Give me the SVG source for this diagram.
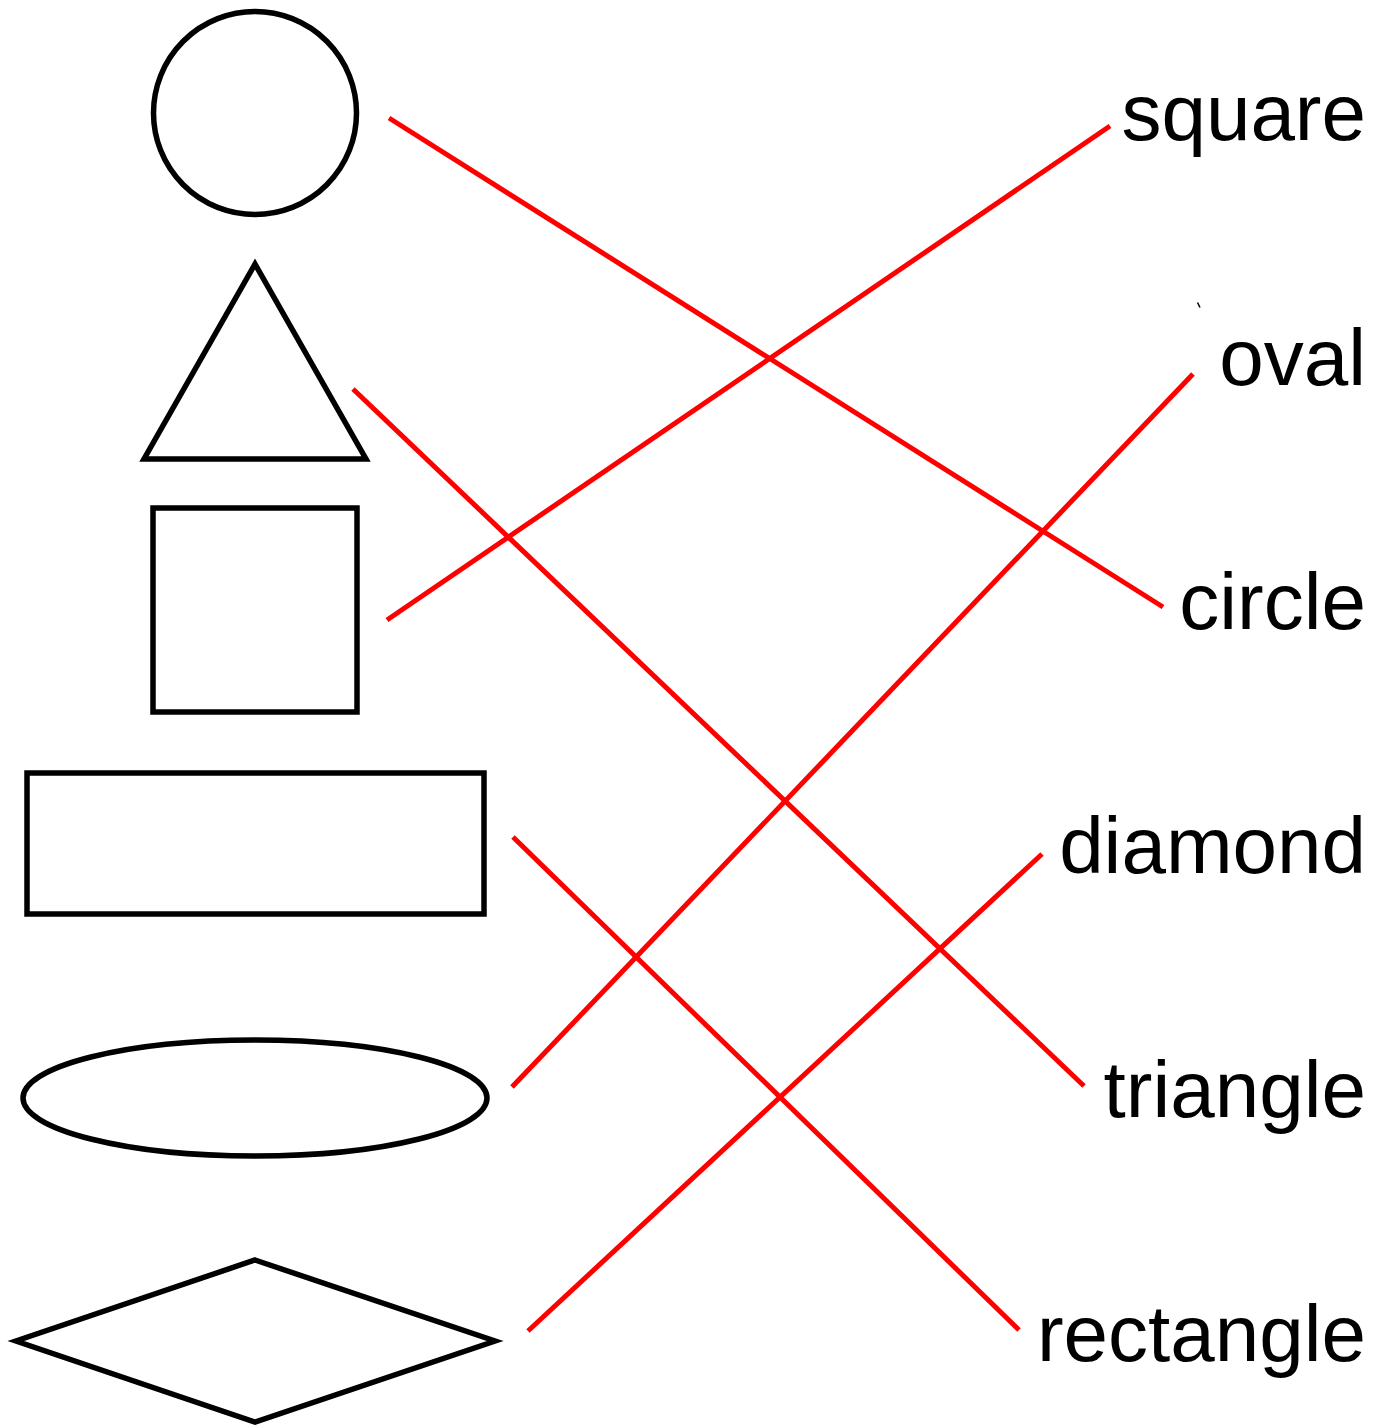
<svg xmlns="http://www.w3.org/2000/svg" width="1381" height="1427" viewBox="0 0 1381 1427">
<style>
.shape{fill:none;stroke:#000;stroke-width:5.5}
.conn line{stroke:#ff0000;stroke-width:5}
.lbl{font-family:"Liberation Sans",Arial,sans-serif;font-size:80px;fill:#000;text-anchor:end}
</style>
<rect width="1381" height="1427" fill="#fff"/>
<g id="shape-circle"><circle class="shape" cx="255" cy="113" r="101.5"/></g>
<g id="shape-triangle"><polygon class="shape" points="255,264 144,459 366,459"/></g>
<g id="shape-square"><rect class="shape" x="153" y="508" width="204" height="204"/></g>
<g id="shape-rectangle"><rect class="shape" x="27" y="773" width="457" height="141"/></g>
<g id="shape-oval"><ellipse class="shape" cx="255" cy="1098" rx="232" ry="58"/></g>
<g id="shape-diamond"><polygon class="shape" points="255,1260 495,1341 255,1422 16,1341"/></g>
<g id="label-square"><text class="lbl" x="1366" y="140">square</text></g>
<g id="label-oval"><text class="lbl" x="1366" y="385">oval</text></g>
<g id="label-circle"><text class="lbl" x="1366" y="629">circle</text></g>
<g id="label-diamond"><text class="lbl" x="1366" y="873">diamond</text></g>
<g id="label-triangle"><text class="lbl" x="1366" y="1117">triangle</text></g>
<g id="label-rectangle"><text class="lbl" x="1366" y="1361">rectangle</text></g>
<g id="connectors" class="conn">
<line x1="389" y1="118" x2="1163" y2="607"/>
<line x1="353" y1="389" x2="1084" y2="1086"/>
<line x1="387" y1="620" x2="1110" y2="126"/>
<line x1="513" y1="837" x2="1019" y2="1330"/>
<line x1="512" y1="1087" x2="1193" y2="374"/>
<line x1="528" y1="1331" x2="1042" y2="854"/>
</g>
<line x1="1197.5" y1="302.5" x2="1200" y2="307.5" stroke="#000" stroke-width="1.5"/>
</svg>
